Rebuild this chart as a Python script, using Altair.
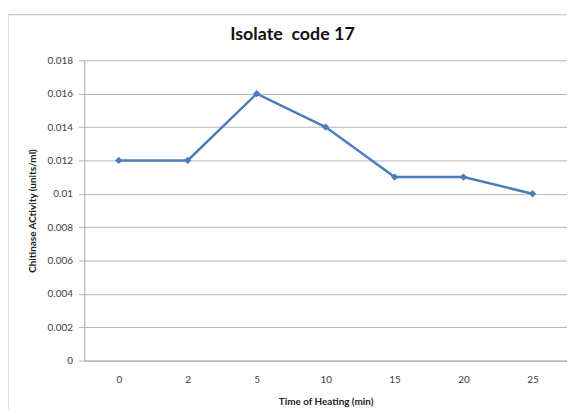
import altair as alt
import pandas as pd

times = ["0", "2", "5", "10", "15", "20", "25"]
activity = [0.012, 0.012, 0.016, 0.014, 0.011, 0.011, 0.010]
y_ticks = [0, 0.002, 0.004, 0.006, 0.008, 0.01, 0.012, 0.014, 0.016, 0.018]
title_text = ["Isolate \u00a0code 17"]

df = pd.DataFrame({"time": times, "activity": activity})

FONT = "Lato"
BLUE = "#4A7EBB"

frame = alt.Chart(pd.DataFrame({"k": [0]})).mark_rect(
    fill=None, stroke="#BDBDBD", strokeWidth=1
).encode(
    x=alt.value(-77), x2=alt.value(520), y=alt.value(-46), y2=alt.value(380)
)

title = alt.Chart(pd.DataFrame({"t": title_text})).mark_text(
    font=FONT, fontSize=18, fontWeight="bold", color="#111",
    align="center", baseline="middle"
).encode(text="t:N", x=alt.value(210), y=alt.value(-26))

line = alt.Chart(df).mark_line(color=BLUE, strokeWidth=2.5, point=alt.OverlayMarkDef(
    shape="diamond", size=55, filled=True, color=BLUE)).encode(
    x=alt.X("time:N", sort=times,
            scale=alt.Scale(paddingInner=0, paddingOuter=0.5),
            axis=alt.Axis(title="Time of Heating (min)", labelAngle=0,
                          ticks=False, domainColor="#A6A6A6", labelPadding=14,
                          titlePadding=12, labelFontSize=10, labelColor="#404040",
                          titleFontSize=10, titleFontWeight="bold", titleColor="#222")),
    y=alt.Y("activity:Q",
            scale=alt.Scale(domain=[0, 0.018], nice=False),
            axis=alt.Axis(title="Chitinase ACtivity (units/ml)", values=y_ticks,
                          format=".3~f", grid=True, gridColor="#B5B5B5",
                          tickColor="#B5B5B5", tickSize=6, domainColor="#A6A6A6",
                          labelPadding=6, labelFontSize=10, labelColor="#404040",
                          titlePadding=10, titleFontSize=10, titleFontWeight="bold",
                          titleColor="#222")),
)

chart = alt.layer(frame, title, line).properties(
    width=487, height=303,
    padding={"left": 77, "top": 51, "right": 0, "bottom": 47},
    autosize=alt.AutoSizeParams(type="none"),
    background="white",
).configure_view(stroke=None).configure_axis(labelFont=FONT, titleFont=FONT)

chart.save("out.html", embed_options={"renderer": "svg", "actions": False})
